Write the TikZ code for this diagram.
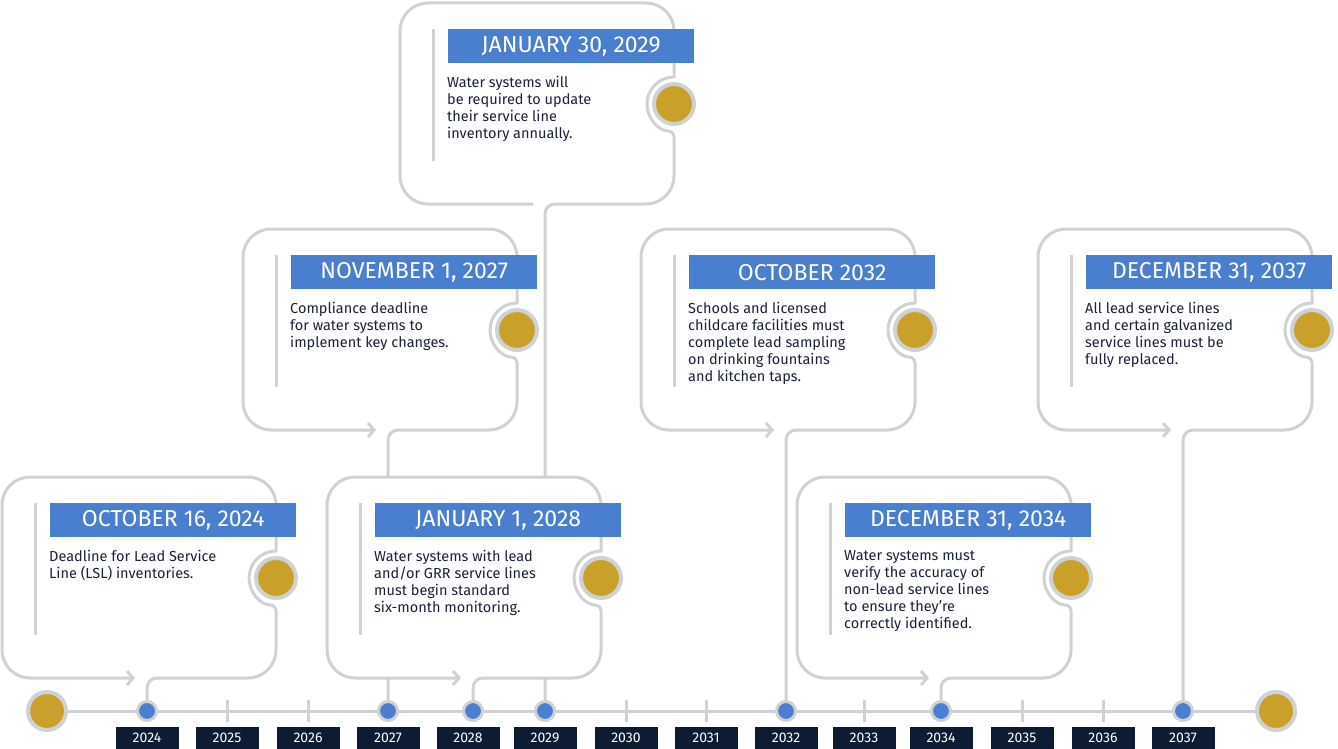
\documentclass[tikz,border=0pt]{standalone}
\usepackage{fontspec}
\setmainfont{Fira Sans}
\usetikzlibrary{arrows.meta}

\definecolor{cardgrey}{HTML}{CFD1D3}
\definecolor{titleblue}{HTML}{4A7FCF}
\definecolor{dotgold}{HTML}{C9A02A}
\definecolor{navy}{HTML}{0D1B33}
\definecolor{bodyink}{HTML}{1A2238}

\tikzset{
  cardline/.style={draw=cardgrey, line width=3pt},
  titlebox/.style={fill=titleblue, text=white, minimum width=246pt, minimum height=34pt,
    anchor=north west, inner sep=0pt, font=\fontsize{23}{26}\selectfont},
  bodytext/.style={anchor=north west, align=left, inner sep=0pt, text=bodyink,
    font=\fontsize{14.5}{17}\selectfont},
  yearbox/.style={fill=navy, text=white, minimum width=63pt, minimum height=22pt,
    inner sep=0pt, font=\fontsize{14}{15}\selectfont},
  golddot/.style={circle, fill=dotgold, draw=cardgrey, line width=4pt, minimum size=40pt, inner sep=0pt},
  bluedot/.style={circle, fill=titleblue, draw=cardgrey, line width=3pt, minimum size=19pt, inner sep=0pt},
  barb/.style={-{Straight Barb[length=6pt,width=14pt]}},
}

% #1 left, #2 top, #3 connector x, #4 end tip, #5 name, #6 title, #7 text
\newcommand{\eventcard}[7]{
  \fill[white, rounded corners=28pt] (#1,#2) rectangle (#1+274,#2+201);
  \draw[cardline, #4] (#3,711) [rounded corners=10pt] -- (#3,#2+201) [rounded corners=28pt]
    -- (#1+274,#2+201) [rounded corners=6pt] -- (#1+274,#2+128) [sharp corners]
    arc[start angle=90, end angle=270, radius=27] [rounded corners=28pt]
    -- (#1+274,#2) -- (#1,#2) -- (#1,#2+201) [sharp corners] -- (#3-12,#2+201);
  \draw[cardline] (#1+33,#2+26) -- (#1+33,#2+158);
  \node[titlebox] (#5t) at (#1+48,#2+26) {#6};
  \node[bodytext] (#5b) at (#1+47,#2+73) {#7};
  \node[golddot] (#5c) at (#1+274,#2+101) {};
}

\begin{document}
\begin{tikzpicture}[x=1pt, y=-1pt]
\useasboundingbox (0,0) rectangle (1338,749);

% timeline
\node[golddot, minimum size=38pt] (start) at (47,711) {};
\node[golddot, minimum size=38pt] (stop) at (1276,711) {};
\draw[cardline] (start) -- (stop);
\foreach \yr/\px in {2025/227,2026/308,2030/626,2031/706,2033/864,2035/1022,2036/1103}
  \draw[cardline] (\px,700) -- (\px,722);

% upper cards first
\eventcard{400}{3}{545}{}{jan29}{JANUARY 30, 2029}{Water systems will\\be required to update\\their service line\\inventory annually.}
\eventcard{243}{229}{388}{barb}{nov27}{NOVEMBER 1, 2027}{Compliance deadline\\for water systems to\\implement key changes.}
\eventcard{641}{229}{786}{barb}{oct32}{OCTOBER 2032}{Schools and licensed\\childcare facilities must\\complete lead sampling\\on drinking fountains\\and kitchen taps.}
\eventcard{1038}{229}{1183}{barb}{dec37}{DECEMBER 31, 2037}{All lead service lines\\and certain galvanized\\service lines must be\\fully replaced.}
% lower cards
\eventcard{327}{477}{473}{barb}{jan28}{JANUARY 1, 2028}{Water systems with lead\\and/or GRR service lines\\must begin standard\\six-month monitoring.}
\eventcard{2}{477}{147}{barb}{oct24}{OCTOBER 16, 2024}{Deadline for Lead Service\\Line (LSL) inventories.}
\eventcard{797}{477}{941}{barb}{dec34}{DECEMBER 31, 2034}{Water systems must\\verify the accuracy of\\non-lead service lines\\to ensure they’re\\correctly identified.}

% event dots and years
\foreach \yr/\px in {2024/147,2027/388,2028/473,2029/545,2032/786,2034/941,2037/1183}
  \node[bluedot] (d\yr) at (\px,711) {};
\foreach \yr/\px in {2024/147,2025/227,2026/308,2027/388,2028/468,2029/545,2030/626,2031/706,2032/786,2033/864,2034/941,2035/1022,2036/1103,2037/1183}
  \node[yearbox] (y\yr) at (\px,738) {\yr};
\end{tikzpicture}
\end{document}
